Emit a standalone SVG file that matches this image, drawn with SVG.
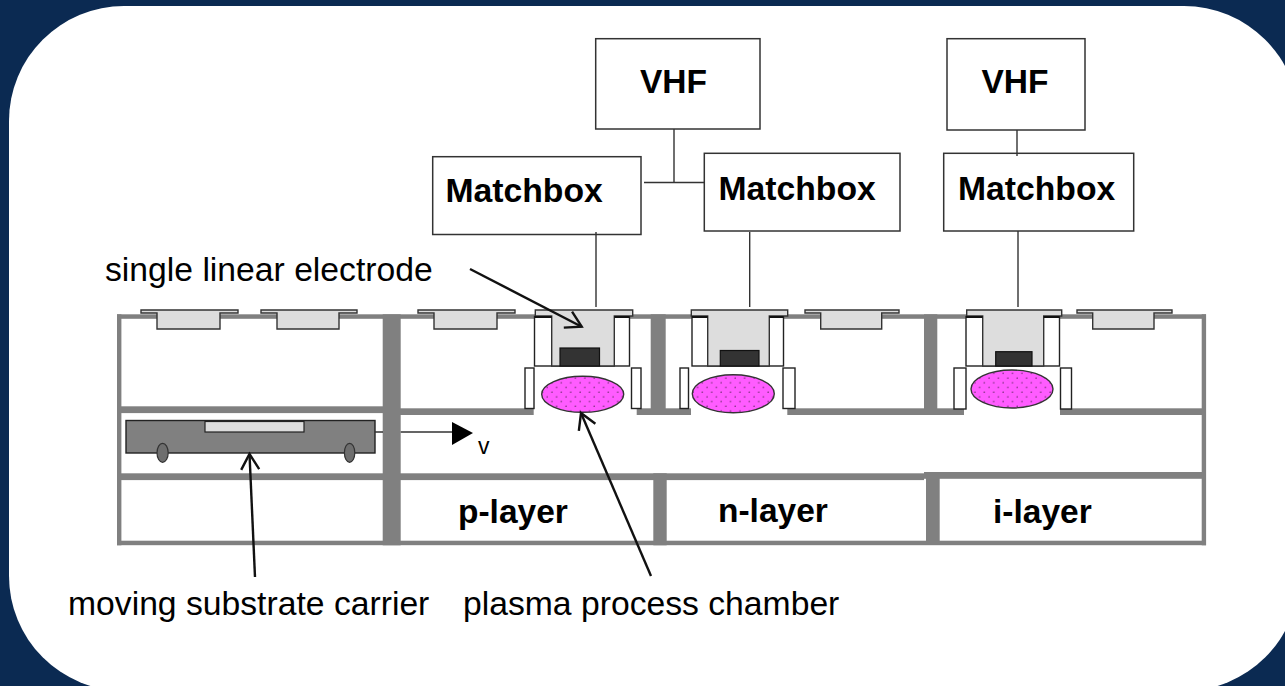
<svg xmlns="http://www.w3.org/2000/svg" width="1285" height="686" viewBox="0 0 1285 686">
<style>
.wall{fill:#808080}
.box{fill:#fff;stroke:#333;stroke-width:1.5}
.wbox{fill:#fff;stroke:#222;stroke-width:1.4}
.lid{fill:#ddd;stroke:#333;stroke-width:1.4}
.block{fill:#333;stroke:#111;stroke-width:1.2}
.plasma{fill:url(#dots);stroke:#333;stroke-width:1.4}
.line{fill:none;stroke:#333;stroke-width:1.4}
.edge{fill:none;stroke:#111;stroke-width:2}
.arrow{fill:none;stroke:#111;stroke-width:2.4;marker-end:url(#open)}
.wheel{fill:#6e6e6e;stroke:#333;stroke-width:1.2}
text{font-family:"Liberation Sans",Arial,sans-serif;font-size:33.5px;fill:#000}
.b{font-weight:bold}
.mb{font-size:33.7px}
.lbl{font-size:33.7px}
</style>
<defs>
<pattern id="dots" patternUnits="userSpaceOnUse" width="9.4" height="9.4">
<rect width="9.4" height="9.4" fill="#ff5cff"/>
<circle cx="2" cy="2" r="0.55" fill="#111"/>
<circle cx="6.7" cy="6.7" r="0.55" fill="#111"/>
</pattern>
<marker id="open" markerUnits="userSpaceOnUse" viewBox="-18 -11 20 22" refX="0" refY="0" markerWidth="20" markerHeight="22" orient="auto" overflow="visible">
<path d="M-15.5,-9 L0,0 L-15.5,9" fill="none" stroke="#111" stroke-width="2.4"/>
</marker>
</defs>
<rect width="1285" height="686" fill="#0b2a52"/>
<rect x="9" y="6" width="1290" height="685" rx="115" ry="115" fill="#fff"/>

<g id="chamber">
<rect class="wall" x="117" y="314.3" width="1089" height="4.5"/>
<rect class="wall" x="117" y="540.7" width="1089" height="4.5"/>
<rect class="wall" x="117" y="314.3" width="4.4" height="231"/>
<rect class="wall" x="1201.7" y="314.3" width="4.4" height="231"/>
<rect class="wall" x="382.7" y="314.3" width="18" height="231"/>
<rect class="wall" x="117" y="406.3" width="266" height="6.8"/>
<rect class="wall" x="400" y="408.3" width="133.7" height="6.7"/>
<rect class="wall" x="636.7" y="408.3" width="54.3" height="6.7"/>
<rect class="wall" x="787.3" y="408.3" width="176.7" height="6.7"/>
<rect class="wall" x="1060" y="408.3" width="146" height="6.7"/>
<rect class="wall" x="117" y="473.3" width="807" height="6.8"/>
<rect class="wall" x="924" y="472" width="282" height="6.8"/>
<rect class="wall" x="650.7" y="314.3" width="15" height="100"/>
<rect class="wall" x="924" y="314.3" width="13.3" height="100"/>
<rect class="wall" x="653.3" y="473.3" width="13.4" height="72"/>
<rect class="wall" x="926" y="472" width="13.7" height="73"/>
</g>

<g id="shutter-1"><path class="lid" d="M141,310H238V313H220V329H157V313H141Z"/></g>
<g id="shutter-2"><path class="lid" d="M261,310H357V313H339V329H277V313H261Z"/></g>
<g id="shutter-3"><path class="lid" d="M418,310H515V313H497V329H434V313H418Z"/></g>
<g id="shutter-4"><path class="lid" d="M805,310H899V313H881.7V329H820.7V313H805Z"/></g>
<g id="shutter-5"><path class="lid" d="M1077,310H1172V313H1154V329H1092.7V313H1077Z"/></g>

<g id="electrode-p">
<rect class="wbox" x="525" y="368" width="9" height="40.5"/>
<rect class="wbox" x="631.5" y="368" width="9.5" height="40.5"/>
<rect class="wbox" x="534.5" y="316.5" width="95" height="49.5"/>
<path class="lid" d="M535.3,310H632.7V316H614.3V366H551.7V316H535.3Z"/>
<path class="edge" d="M534.5,317H551.7M614.3,317H629.5"/>
<rect class="block" x="560" y="348" width="39.5" height="18"/>
<ellipse class="plasma" cx="582.7" cy="394.3" rx="41" ry="18"/>
</g>
<g id="electrode-n">
<rect class="wbox" x="680" y="368" width="8.5" height="40.5"/>
<rect class="wbox" x="783" y="368" width="12" height="40.5"/>
<rect class="wbox" x="692" y="316.5" width="91.5" height="49.5"/>
<path class="lid" d="M691.3,310H787.7V316H769.3V366H707.7V316H691.3Z"/>
<path class="edge" d="M692,317H707.7M769.3,317H783.5"/>
<rect class="block" x="720.3" y="350.5" width="38.7" height="15.5"/>
<ellipse class="plasma" cx="733.3" cy="393.7" rx="41" ry="19"/>
</g>
<g id="electrode-i">
<rect class="wbox" x="954" y="368" width="12" height="41"/>
<rect class="wbox" x="1060.5" y="368" width="11" height="41"/>
<rect class="wbox" x="966" y="316.5" width="93.5" height="49.5"/>
<path class="lid" d="M966.7,310H1061.7V316H1043.7V366H982.7V316H966.7Z"/>
<path class="edge" d="M966,317H982.7M1043.7,317H1059.5"/>
<rect class="block" x="995.7" y="351.7" width="36.3" height="14.3"/>
<ellipse class="plasma" cx="1012" cy="389" rx="41" ry="19"/>
</g>

<g id="carrier">
<rect x="126" y="420.5" width="249" height="32.5" fill="#808080" stroke="#222" stroke-width="1.4"/>
<ellipse class="wheel" cx="162.6" cy="452.8" rx="5.6" ry="9.5"/>
<ellipse class="wheel" cx="349.6" cy="452.8" rx="5.2" ry="9.5"/>
<rect x="205" y="421.5" width="99" height="10.5" fill="#ddd" stroke="#222" stroke-width="1.2"/>
</g>

<g id="vhf-1"><rect class="box" x="595.7" y="38.7" width="164.3" height="90.3"/><text class="b" x="640" y="93.3">VHF</text></g>
<g id="vhf-2"><rect class="box" x="947" y="38.7" width="138" height="91.3"/><text class="b" x="981.5" y="93.3">VHF</text></g>
<g id="matchbox-1"><rect class="box" x="432.7" y="156.7" width="208.3" height="77.8"/><text class="b mb" x="445.5" y="202.3">Matchbox</text></g>
<g id="matchbox-2"><rect class="box" x="704.3" y="153.3" width="195.7" height="77.7"/><text class="b mb" x="718.5" y="200">Matchbox</text></g>
<g id="matchbox-3"><rect class="box" x="943.7" y="153.3" width="190" height="77.7"/><text class="b mb" x="958" y="200">Matchbox</text></g>

<g id="connectors">
<path class="line" d="M674,129V182.5M644,182.5H704.3"/>
<path class="line" d="M1017,130V156"/>
<path class="line" d="M596,232V307M749.7,232V307M1018,231V307"/>
<path class="line" d="M375,432H383M400.7,432H453"/>
<path d="M452,422L473,433L452,445Z" fill="#000"/>
<path class="arrow" d="M470,269L581.7,326.7"/>
<path class="arrow" d="M651,576L581,413"/>
<path class="arrow" d="M255,577L249.5,454"/>
</g>

<g id="labels">
<text class="lbl" x="105" y="281">single linear electrode</text>
<text class="lbl" x="68" y="615">moving substrate carrier</text>
<text class="lbl" x="463" y="615">plasma process chamber</text>
<text x="478" y="453.5" style="font-size:23px">v</text>
<text class="b" x="458" y="523">p-layer</text>
<text class="b" x="718" y="522">n-layer</text>
<text class="b" x="993" y="523">i-layer</text>
</g>
</svg>
